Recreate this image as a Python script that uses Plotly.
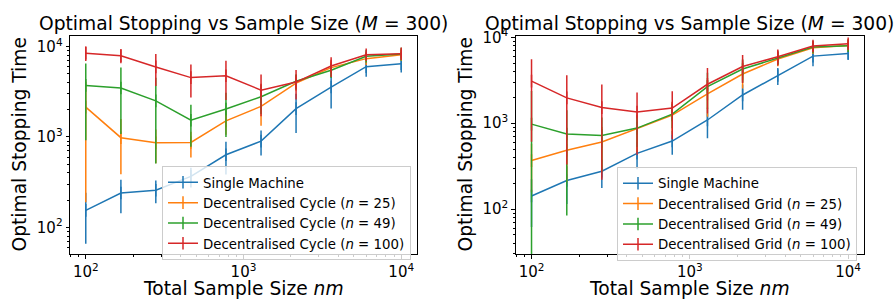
import plotly.graph_objects as go

# ---------------- data ----------------
sample_size = [100, 167, 278, 464, 774, 1292, 2154, 3594, 5995, 10000]

# Left panel: decentralised cycle
cyc_single_mean = [154, 240, 257, 366, 635, 900, 2060, 3570, 6000, 6460]
cyc_single_std = [88, 97, 72, 90, 250, 277, 950, 1500, 1350, 1300]
cyc_n25_mean = [2140, 982, 861, 869, 1507, 2180, 3950, 5850, 7360, 8130]
cyc_n25_std = [1950, 595, 350, 275, 450, 850, 700, 900, 600, 500]
cyc_n49_mean = [3720, 3480, 2510, 1530, 2040, 2790, 4140, 5480, 7820, 8260]
cyc_n49_std = [2800, 2400, 2000, 750, 1040, 1000, 800, 1000, 600, 500]
cyc_n100_mean = [8470, 7940, 5960, 4540, 4760, 3300, 4050, 6110, 8130, 8330]
cyc_n100_std = [1530, 1400, 2300, 1800, 2200, 1600, 1450, 1500, 720, 900]

# Right panel: decentralised grid
grd_single_mean = [142, 215, 276, 446, 620, 1090, 2130, 3590, 6040, 6470]
grd_single_std = [80, 100, 100, 155, 190, 420, 700, 800, 1450, 1000]
grd_n25_mean = [367, 485, 603, 861, 1240, 2190, 3740, 5590, 7570, 8050]
grd_n25_std = [210, 280, 300, 400, 500, 1000, 1200, 1000, 900, 700]
grd_n49_mean = [975, 750, 718, 877, 1274, 2670, 4270, 5780, 7710, 7980]
grd_n49_std = [1400, 666, 450, 350, 400, 1200, 1300, 1000, 900, 700]
grd_n100_mean = [3090, 1970, 1520, 1350, 1500, 2840, 4570, 5940, 7910, 8400]
grd_n100_std = [2480, 1640, 1300, 920, 850, 1540, 1640, 1250, 1100, 900]

cycle_names = ["Single Machine", "Decentralised Cycle (<i>n</i> = 25)",
               "Decentralised Cycle (<i>n</i> = 49)", "Decentralised Cycle (<i>n</i> = 100)"]
grid_names = ["Single Machine", "Decentralised Grid (<i>n</i> = 25)",
              "Decentralised Grid (<i>n</i> = 49)", "Decentralised Grid (<i>n</i> = 100)"]

x_tick_vals = [100, 1000, 10000]
x_tick_text = ["10<sup>2</sup>", "10<sup>3</sup>", "10<sup>4</sup>"]
y_tick_vals = [100, 1000, 10000]
y_tick_text = ["10<sup>2</sup>", "10<sup>3</sup>", "10<sup>4</sup>"]

title_text = "Optimal Stopping vs Sample Size (<i>M</i> = 300)"
x_label = "Total Sample Size <i>nm</i>"
y_label = "Optimal Stopping Time"

colors = ["#1f77b4", "#ff7f0e", "#2ca02c", "#d62728"]
FONT = "DejaVu Sans"
LABEL_SIZE = 18.67
TICK_SIZE = 15
LEGEND_SIZE = 13.33

fig = go.Figure()


def add_series(xs, means, stds, name, color, xaxis, yaxis, legend):
    fig.add_trace(go.Scatter(
        x=xs, y=means, name=name, mode="lines+markers",
        line=dict(color=color, width=1.5),
        marker=dict(symbol="line-ns", size=9, color=color,
                    line=dict(color=color, width=1.5)),
        error_y=dict(type="data", array=stds, visible=True,
                     color=color, thickness=1.5, width=0),
        xaxis=xaxis, yaxis=yaxis, legend=legend,
    ))


left = [(cyc_single_mean, cyc_single_std), (cyc_n25_mean, cyc_n25_std),
        (cyc_n49_mean, cyc_n49_std), (cyc_n100_mean, cyc_n100_std)]
right = [(grd_single_mean, grd_single_std), (grd_n25_mean, grd_n25_std),
         (grd_n49_mean, grd_n49_std), (grd_n100_mean, grd_n100_std)]

for (m, s), nm, c in zip(left, cycle_names, colors):
    add_series(sample_size, m, s, nm, c, "x", "y", "legend")
for (m, s), nm, c in zip(right, grid_names, colors):
    add_series(sample_size, m, s, nm, c, "x2", "y2", "legend2")

W, H = 895, 301
ydom = [1 - 253 / H, 1 - 27.5 / H]

axis_common = dict(
    type="log", showgrid=False, zeroline=False,
    showline=True, linecolor="black", linewidth=0.8, mirror=True,
    ticks="outside", ticklen=3.5, tickwidth=0.8, tickcolor="black",
    tickfont=dict(family=FONT, size=TICK_SIZE, color="black"),
    minor=dict(ticks="outside", ticklen=2, tickwidth=0.6, tickcolor="black",
               dtick="D1", showgrid=False),
)

legend_common = dict(
    xanchor="left", yanchor="top",
    bgcolor="rgba(255,255,255,0.8)", bordercolor="#cccccc", borderwidth=1,
    font=dict(family=FONT, size=LEGEND_SIZE, color="black"),
    itemsizing="trace", tracegroupgap=0,
)

fig.update_layout(
    width=W, height=H,
    margin=dict(l=0, r=0, t=0, b=0),
    paper_bgcolor="white", plot_bgcolor="white",
    font=dict(family=FONT, color="black"),
    xaxis=dict(domain=[70 / W, 417 / W], range=[1.9, 4.1], anchor="y",
               tickvals=x_tick_vals, ticktext=x_tick_text, **axis_common),
    yaxis=dict(domain=ydom, range=[1.70, 4.121], anchor="x",
               tickvals=y_tick_vals, ticktext=y_tick_text, **axis_common),
    xaxis2=dict(domain=[515.7 / W, 864 / W], range=[1.9, 4.1], anchor="y2",
                tickvals=x_tick_vals, ticktext=x_tick_text, **axis_common),
    yaxis2=dict(domain=ydom, range=[1.472, 4.019], anchor="x2",
                tickvals=y_tick_vals, ticktext=y_tick_text, **axis_common),
    legend=dict(x=162 / W, y=1 - 162 / H, **legend_common),
    legend2=dict(x=617 / W, y=1 - 163 / H, **legend_common),
    showlegend=True,
)

annos = []
for cx in [(70 + 417) / 2 / W, (515.7 + 864) / 2 / W]:
    annos.append(dict(text=title_text, x=cx, y=1 - 15 / H, xref="paper", yref="paper",
                      xanchor="center", yanchor="middle", showarrow=False,
                      font=dict(family=FONT, size=LABEL_SIZE, color="black")))
    annos.append(dict(text=x_label, x=cx, y=1 - 288 / H, xref="paper", yref="paper",
                      xanchor="center", yanchor="middle", showarrow=False,
                      font=dict(family=FONT, size=LABEL_SIZE, color="black")))
for lx in [19.5 / W, 465.5 / W]:
    annos.append(dict(text=y_label, x=lx, y=1 - 140.25 / H, xref="paper", yref="paper",
                      xanchor="center", yanchor="middle", showarrow=False, textangle=-90,
                      font=dict(family=FONT, size=LABEL_SIZE, color="black")))
fig.update_layout(annotations=annos)

fig.write_html("out.html", config={"displayModeBar": False},
               post_script="document.body.style.margin='0px';")
